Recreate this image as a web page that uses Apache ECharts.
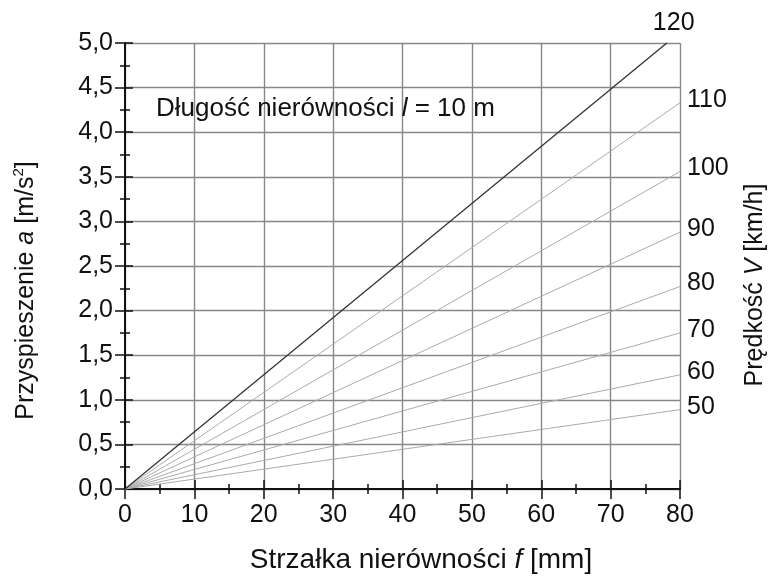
<!DOCTYPE html>
<html><head><meta charset="utf-8">
<script src="https://cdn.jsdelivr.net/npm/echarts@6/dist/echarts.min.js"></script>
<style>html,body{margin:0;padding:0;background:#fff}#c{width:768px;height:579px}</style>
</head><body><div id="c"></div>
<script>
// speeds V [km/h]
const speeds = [50, 60, 70, 80, 90, 100, 110, 120];
// end point of each line: f [mm] and a [m/s2]
const endF = [80, 80, 80, 80, 80, 80, 80, 78.1];
const endA = [0.89, 1.28, 1.75, 2.27, 2.88, 3.56, 4.33, 5.0];
const xTicks = [0, 10, 20, 30, 40, 50, 60, 70, 80];
const yTicks = [0, 0.5, 1, 1.5, 2, 2.5, 3, 3.5, 4, 4.5, 5];

const FONT = '"Liberation Sans", Arial, sans-serif';
const TXT = '#111';
const chart = echarts.init(document.getElementById('c'));

const series = speeds.map((v, i) => ({
  type: 'line',
  data: [[0, 0], [endF[i], endA[i]]],
  symbol: 'none',
  silent: true,
  lineStyle: { color: v === 120 ? '#333' : '#aaa', width: v === 120 ? 1.3 : 1 },
  endLabel: {
    show: true,
    formatter: String(v),
    fontFamily: FONT, fontSize: 25, color: TXT,
    distance: v === 120 ? 0 : 7,
    offset: v === 120 ? [-14, -20] : [0, -3]
  },
  z: v === 120 ? 5 : 3
}));

const tickStyle = { color: '#111', width: 1.5 };

chart.setOption({
  animation: false,
  grid: { left: 125, right: 88, top: 43, bottom: 87 },
  xAxis: [
    {
      type: 'value', min: 0, max: 80, interval: 10, position: 'bottom',
      axisLine: { lineStyle: { color: '#111', width: 2 } },
      axisTick: { show: true, length: 10, lineStyle: tickStyle },
      minorTick: { show: true, splitNumber: 2, length: 5, lineStyle: tickStyle },
      axisLabel: { fontFamily: FONT, fontSize: 25, color: TXT, margin: 14 },
      splitLine: { show: true, lineStyle: { color: '#888', width: 1.4 } },
      name: '{n|Strzałka nierówności }{i|f}{n| [mm]}',
      nameLocation: 'middle', nameGap: 57,
      nameTextStyle: { padding: [0, 0, 0, 37], rich: {
        n: { fontFamily: FONT, fontSize: 28, color: TXT },
        i: { fontFamily: FONT, fontSize: 28, color: TXT, fontStyle: 'italic' } } }
    },
    {
      type: 'value', min: 0, max: 80, interval: 10, position: 'bottom', offset: 0,
      axisLine: { show: false },
      axisTick: { show: true, inside: true, length: 9, lineStyle: tickStyle },
      minorTick: { show: true, splitNumber: 2, length: 5, lineStyle: tickStyle },
      axisLabel: { show: false }, splitLine: { show: false }
    }
  ],
  yAxis: [
    {
      type: 'value', min: 0, max: 5, interval: 0.5, position: 'left',
      axisLine: { lineStyle: { color: '#111', width: 2 } },
      axisTick: { show: true, length: 10, lineStyle: tickStyle },
      minorTick: { show: true, splitNumber: 2, length: 5, lineStyle: tickStyle },
      axisLabel: { fontFamily: FONT, fontSize: 25, color: TXT, margin: 12,
        formatter: v => v.toFixed(1).replace('.', ',') },
      splitLine: { show: true, lineStyle: { color: '#888', width: 1.4 } },
      name: '{n|Przyspieszenie }{i|a}{n| [m/s}{s|2}{n|]}',
      nameLocation: 'middle', nameGap: 84, nameRotate: 90,
      nameTextStyle: { padding: [0, 49, 0, 0], rich: {
        n: { fontFamily: FONT, fontSize: 25, color: TXT, lineHeight: 30 },
        i: { fontFamily: FONT, fontSize: 25, color: TXT, fontStyle: 'italic', lineHeight: 30 },
        s: { fontFamily: FONT, fontSize: 15, color: TXT, lineHeight: 30, verticalAlign: 'top', padding: [0, 0, 12, 0] } } }
    },
    {
      type: 'value', min: 0, max: 5, interval: 0.5, position: 'left', offset: 0,
      axisLine: { show: false },
      axisTick: { show: true, inside: true, length: 8, lineStyle: tickStyle },
      minorTick: { show: true, splitNumber: 2, length: 5, lineStyle: tickStyle },
      axisLabel: { show: false }, splitLine: { show: false }
    }
  ],
  series: series,
  graphic: [
    {
      type: 'text', left: 156, top: 96, z: 10,
      style: {
        text: '{n|Długość nierówności }{i|l}{n| = 10 m}',
        rich: {
          n: { fontFamily: FONT, fontSize: 26, fill: TXT },
          i: { fontFamily: FONT, fontSize: 26, fill: TXT, fontStyle: 'italic' }
        }
      }
    },
    {
      type: 'text', x: 755, y: 285, rotation: Math.PI / 2, z: 10,
      style: {
        text: '{n|Prędkość }{i|V}{n| [km/h]}',
        align: 'center', verticalAlign: 'middle',
        rich: {
          n: { fontFamily: FONT, fontSize: 25, fill: TXT },
          i: { fontFamily: FONT, fontSize: 25, fill: TXT, fontStyle: 'italic' }
        }
      }
    }
  ]
});
</script></body></html>
